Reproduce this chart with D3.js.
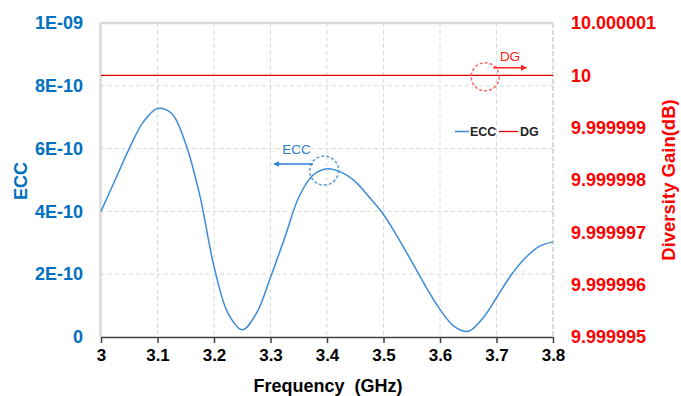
<!DOCTYPE html>
<html><head><meta charset="utf-8">
<script src="https://cdn.jsdelivr.net/npm/d3@7/dist/d3.min.js"></script>
<style>
html,body{margin:0;padding:0;background:#fff;}
text{font-family:"Liberation Sans",Arial,sans-serif;}
</style></head>
<body><svg id="c" width="681" height="396"></svg>
<script>
const freq = [3.000,3.025,3.050,3.075,3.100,3.125,3.150,3.175,3.200,3.225,3.250,3.275,3.300,3.325,3.350,3.375,3.400,3.425,3.450,3.475,3.500,3.525,3.550,3.575,3.600,3.625,3.650,3.675,3.700,3.725,3.750,3.775,3.800];
const ecc = [4.00e-10,5.00e-10,6.00e-10,6.85e-10,7.28e-10,7.12e-10,6.15e-10,4.50e-10,2.25e-10,0.75e-10,0.23e-10,0.75e-10,1.90e-10,3.15e-10,4.45e-10,5.15e-10,5.36e-10,5.25e-10,4.95e-10,4.45e-10,3.90e-10,3.18e-10,2.40e-10,1.60e-10,0.88e-10,0.34e-10,0.18e-10,0.58e-10,1.25e-10,1.95e-10,2.50e-10,2.88e-10,3.03e-10];
const dgFreq = [3.0, 3.8];
const dg = [10, 10];
const xTicks = [3,3.1,3.2,3.3,3.4,3.5,3.6,3.7,3.8];
const yTicks = [0,2e-10,4e-10,6e-10,8e-10,1e-9];
const yTickLabels = ["0","2E-10","4E-10","6E-10","8E-10","1E-09"];
const y2Ticks = [9.999995,9.999996,9.999997,9.999998,9.999999,10,10.000001];
const y2TickLabels = ["9.999995","9.999996","9.999997","9.999998","9.999999","10","10.000001"];

const svg = d3.select("#c");
const L=101, R=553, T=23, B=337;
const x = d3.scaleLinear().domain([3,3.8]).range([L,R]);
const y = d3.scaleLinear().domain([0,1e-9]).range([B,T]);
const y2 = d3.scaleLinear().domain([9.999995,10.000001]).range([B,T]);
const blueT="#0070C0", red="#FF0000", lineBlue="#3d8bd6";

// grid
svg.append("g").selectAll("line").data(yTicks.slice(1,-1)).join("line")
  .attr("x1",L).attr("x2",R).attr("y1",d=>y(d)).attr("y2",d=>y(d))
  .attr("stroke","#d9d9d9").attr("stroke-width",1).attr("stroke-dasharray","4,3");
svg.append("g").selectAll("line").data(xTicks.slice(1,-1)).join("line")
  .attr("y1",T).attr("y2",B).attr("x1",d=>x(d)).attr("x2",d=>x(d))
  .attr("stroke","#d9d9d9").attr("stroke-width",1).attr("stroke-dasharray","4,3");
// border
svg.append("line").attr("x1",L-0.5).attr("x2",R).attr("y1",T).attr("y2",T).attr("stroke","#d9d9d9").attr("stroke-width",2.5);
svg.append("line").attr("x1",L-0.5).attr("x2",L-0.5).attr("y1",T).attr("y2",B).attr("stroke","#d9d9d9").attr("stroke-width",2.5);
svg.append("line").attr("x1",R).attr("x2",R).attr("y1",T).attr("y2",B).attr("stroke","#d9d9d9").attr("stroke-width",2).attr("stroke-dasharray","5,2");

// x axis
const xa = svg.append("g").attr("transform",`translate(0,${B})`)
  .call(d3.axisBottom(x).tickValues(xTicks).tickFormat(d3.format("")).tickSize(6).tickSizeOuter(0));
xa.select(".domain").attr("stroke","#404040").attr("stroke-width",1.5);
xa.selectAll(".tick line").attr("stroke","#404040").attr("stroke-width",1.5);
xa.selectAll("text").attr("fill","#000").attr("font-size",17).attr("font-weight","bold")
  .attr("font-family","Liberation Sans, Arial, sans-serif").attr("y",12).attr("dy","0.71em");

// left axis labels
const ya = svg.append("g").attr("transform",`translate(${L},0)`)
  .call(d3.axisLeft(y).tickValues(yTicks).tickFormat((d,i)=>yTickLabels[i]).tickSize(0));
ya.select(".domain").remove();
ya.selectAll("text").attr("fill",blueT).attr("font-size",18).attr("font-weight","bold")
  .attr("font-family","Liberation Sans, Arial, sans-serif").attr("x",-18);

// right axis labels
const y2a = svg.append("g").attr("transform",`translate(${R},0)`)
  .call(d3.axisRight(y2).tickValues(y2Ticks).tickFormat((d,i)=>y2TickLabels[i]).tickSize(0));
y2a.select(".domain").remove();
y2a.selectAll("text").attr("fill",red).attr("font-size",18).attr("font-weight","bold")
  .attr("font-family","Liberation Sans, Arial, sans-serif").attr("x",18);

// titles
svg.append("text").attr("x",(L+R)/2+1).attr("y",392).attr("text-anchor","middle")
  .attr("font-size",18).attr("font-weight","bold").attr("fill","#000").style("white-space","pre")
  .text("Frequency  (GHz)");
svg.append("text").attr("transform","translate(27,181) rotate(-90)").attr("text-anchor","middle")
  .attr("font-size",18).attr("font-weight","bold").attr("fill",blueT).text("ECC");
svg.append("text").attr("transform","translate(675,180) rotate(-90)").attr("text-anchor","middle")
  .attr("font-size",18.5).attr("font-weight","bold").attr("fill",red).text("Diversity Gain(dB)");

// lines
svg.append("path").datum(dgFreq.map((f,i)=>[f,dg[i]]))
  .attr("d",d3.line().x(d=>x(d[0])).y(d=>y2(d[1])))
  .attr("stroke","#e00000").attr("stroke-width",1.3).attr("fill","none");
svg.append("path").datum(freq.map((f,i)=>[f,ecc[i]]))
  .attr("d",d3.line().x(d=>x(d[0])).y(d=>y(d[1])).curve(d3.curveCatmullRom.alpha(0.5)))
  .attr("stroke",lineBlue).attr("stroke-width",1.5).attr("fill","none");

// markers
const defs = svg.append("defs");
function mk(id,col){
  defs.append("marker").attr("id",id).attr("viewBox","0 0 10 10").attr("refX",9).attr("refY",5)
   .attr("markerWidth",4).attr("markerHeight",4).attr("orient","auto")
   .append("path").attr("d","M0,0L10,5L0,10Z").attr("fill",col);
}
mk("ar","#ff2020"); mk("ab","#2f7fd0");

// DG annotation
svg.append("circle").attr("cx",x(3.68)).attr("cy",y2(10)+1.5).attr("r",14)
  .attr("fill","none").attr("stroke","#f26b6b").attr("stroke-width",1.5).attr("stroke-dasharray","3,2");
svg.append("line").attr("x1",x(3.6945)).attr("x2",x(3.753)).attr("y1",67.7).attr("y2",67.7)
  .attr("stroke","#ff2020").attr("stroke-width",1.5).attr("marker-end","url(#ar)");
svg.append("text").attr("x",510).attr("y",60.5).attr("text-anchor","middle")
  .attr("font-size",13.5).attr("fill","#ff2020").text("DG");

// ECC annotation
svg.append("circle").attr("cx",x(3.395)).attr("cy",y(5.3e-10)).attr("r",14.5)
  .attr("fill","none").attr("stroke","#5a9bd5").attr("stroke-width",1.5).attr("stroke-dasharray","3,2");
svg.append("line").attr("x1",313).attr("x2",274).attr("y1",164).attr("y2",164)
  .attr("stroke","#2f7fd0").attr("stroke-width",1.5).attr("marker-end","url(#ab)");
svg.append("text").attr("x",296.5).attr("y",154).attr("text-anchor","middle")
  .attr("font-size",13.5).attr("fill","#2f7fd0").text("ECC");

// legend
const lg = svg.append("g");
lg.append("line").attr("x1",455).attr("x2",469).attr("y1",131.5).attr("y2",131.5).attr("stroke",lineBlue).attr("stroke-width",1.5);
lg.append("text").attr("x",470).attr("y",136).attr("font-size",12.5).attr("font-weight","bold").attr("fill","#222").text("ECC");
lg.append("line").attr("x1",499).attr("x2",518).attr("y1",131.5).attr("y2",131.5).attr("stroke","#e00000").attr("stroke-width",1.3);
lg.append("text").attr("x",520).attr("y",136).attr("font-size",12.5).attr("font-weight","bold").attr("fill","#222").text("DG");
</script></body></html>
